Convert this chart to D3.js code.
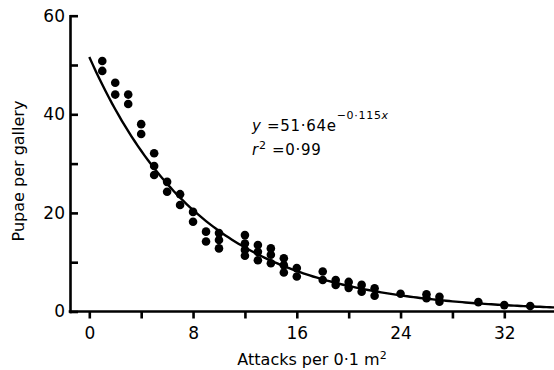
<!DOCTYPE html>
<html>
<head>
<meta charset="utf-8">
<script src="https://cdn.jsdelivr.net/npm/d3@7"></script>
<style>
html, body { margin: 0; padding: 0; background: #fff; }
svg { display: block; font-family: 'DejaVu Sans', sans-serif; }
</style>
</head>
<body>
<svg id="chart" width="554" height="370"></svg>
<script>
// attacks per 0.1 m2 and pupae per gallery, one entry per dot
var attacks = [1, 1, 2, 2, 3, 3, 4, 4, 5, 5, 5, 6, 6, 7, 7, 8, 8, 9, 9,
  10, 10, 10, 12, 12, 12, 12, 13, 13, 13, 14, 14, 14, 15, 15, 15, 16, 16,
  18, 18, 19, 19, 20, 20, 21, 21, 22, 22, 24, 26, 26, 27, 27, 30, 32, 34];
var pupae = [50.8, 48.8, 46.4, 44.0, 44.0, 42.1, 38.0, 36.0, 32.1, 29.5, 27.7,
  26.3, 24.3, 23.8, 21.6, 20.2, 18.2, 16.2, 14.2,
  15.9, 14.5, 12.8, 15.5, 13.8, 12.5, 11.3, 13.5, 12.1, 10.4, 12.8, 11.5, 9.8,
  10.8, 9.4, 7.9, 8.8, 7.1,
  8.1, 6.4, 6.4, 5.4, 6.0, 4.8, 5.4, 4.0, 4.7, 3.2, 3.6, 3.5, 2.7, 3.0, 2.0,
  1.9, 1.3, 1.1];

// fitted curve y = a * e^(-b x), as printed on the chart
var fitA = 51.64;
var fitB = 0.115;
var curveX = d3.range(0, 36.01, 0.25);

var xTicks = [0, 4, 8, 12, 16, 20, 24, 28, 32];
var xTickLabels = [0, 8, 16, 24, 32];
var yTicks = [0, 10, 20, 30, 40, 50, 60];
var yTickLabels = [0, 20, 40, 60];

var svg = d3.select('#chart');

var x = d3.scaleLinear().domain([0, 32]).range([89.3, 504.3]);
var y = d3.scaleLinear().domain([0, 60]).range([311.5, 15.7]);
var axisX0 = 70;

function styleAxis(g) {
  g.attr('font-family', null).attr('font-size', null);
  g.selectAll('line, path').attr('stroke', '#000').attr('stroke-width', 2.6);
  g.selectAll('text').attr('fill', '#000').style('font-size', '17px');
}

// y axis, ticks point into the plot
svg.append('g')
  .attr('transform', 'translate(' + axisX0 + ',0)')
  .call(d3.axisLeft(y)
    .tickValues(yTicks)
    .tickSizeInner(-8)
    .tickSizeOuter(0)
    .tickPadding(5)
    .tickFormat(function(d) { return yTickLabels.indexOf(d) >= 0 ? d : ''; }))
  .call(styleAxis)
  .select('.domain').attr('stroke-linecap', 'square');

// x axis
var gx = svg.append('g')
  .attr('transform', 'translate(0,' + y(0) + ')')
  .call(d3.axisBottom(x)
    .tickValues(xTicks)
    .tickSizeInner(7)
    .tickSizeOuter(0)
    .tickPadding(8)
    .tickFormat(function(d) { return xTickLabels.indexOf(d) >= 0 ? d : ''; }))
  .call(styleAxis);
gx.select('.domain').remove();
gx.append('line')
  .attr('x1', axisX0 - 1.3).attr('x2', 554)
  .attr('stroke', '#000').attr('stroke-width', 2.6);

// fitted curve
var line = d3.line()
  .x(function(d) { return x(d); })
  .y(function(d) { return y(fitA * Math.exp(-fitB * d)); });

svg.append('path')
  .datum(curveX)
  .attr('d', line)
  .attr('fill', 'none')
  .attr('stroke', '#000')
  .attr('stroke-width', 2.4);

// observations
svg.append('g').selectAll('circle')
  .data(d3.range(attacks.length))
  .join('circle')
  .attr('cx', function(i) { return x(attacks[i]); })
  .attr('cy', function(i) { return y(pupae[i]); })
  .attr('r', 4.3)
  .attr('fill', '#000');

// axis titles
svg.append('text')
  .attr('x', 312).attr('y', 365)
  .attr('text-anchor', 'middle')
  .style('font-size', '16px')
  .html('Attacks per 0\u00b71 m<tspan dy="-6" style="font-size:11px">2</tspan>');

svg.append('text')
  .attr('transform', 'translate(24,171) rotate(-90)')
  .attr('text-anchor', 'middle')
  .style('font-size', '16px')
  .text('Pupae per gallery');

// equation
var eq = svg.append('text')
  .attr('x', 252).attr('y', 131)
  .style('font-size', '15px')
  .style('letter-spacing', '0.7px');
eq.append('tspan').style('font-style', 'italic').text('y');
eq.append('tspan').text(' =51\u00b764e');
eq.append('tspan').attr('dy', -12).style('font-size', '11px').text('\u22120\u00b7115');
eq.append('tspan').style('font-size', '11px').style('font-style', 'italic').text('x');

var r2 = svg.append('text')
  .attr('x', 252).attr('y', 155)
  .style('font-size', '15px')
  .style('letter-spacing', '0.7px');
r2.append('tspan').style('font-style', 'italic').text('r');
r2.append('tspan').attr('dy', -6).style('font-size', '11px').text('2');
r2.append('tspan').attr('dy', 6).text(' =0\u00b799');
</script>
</body>
</html>
